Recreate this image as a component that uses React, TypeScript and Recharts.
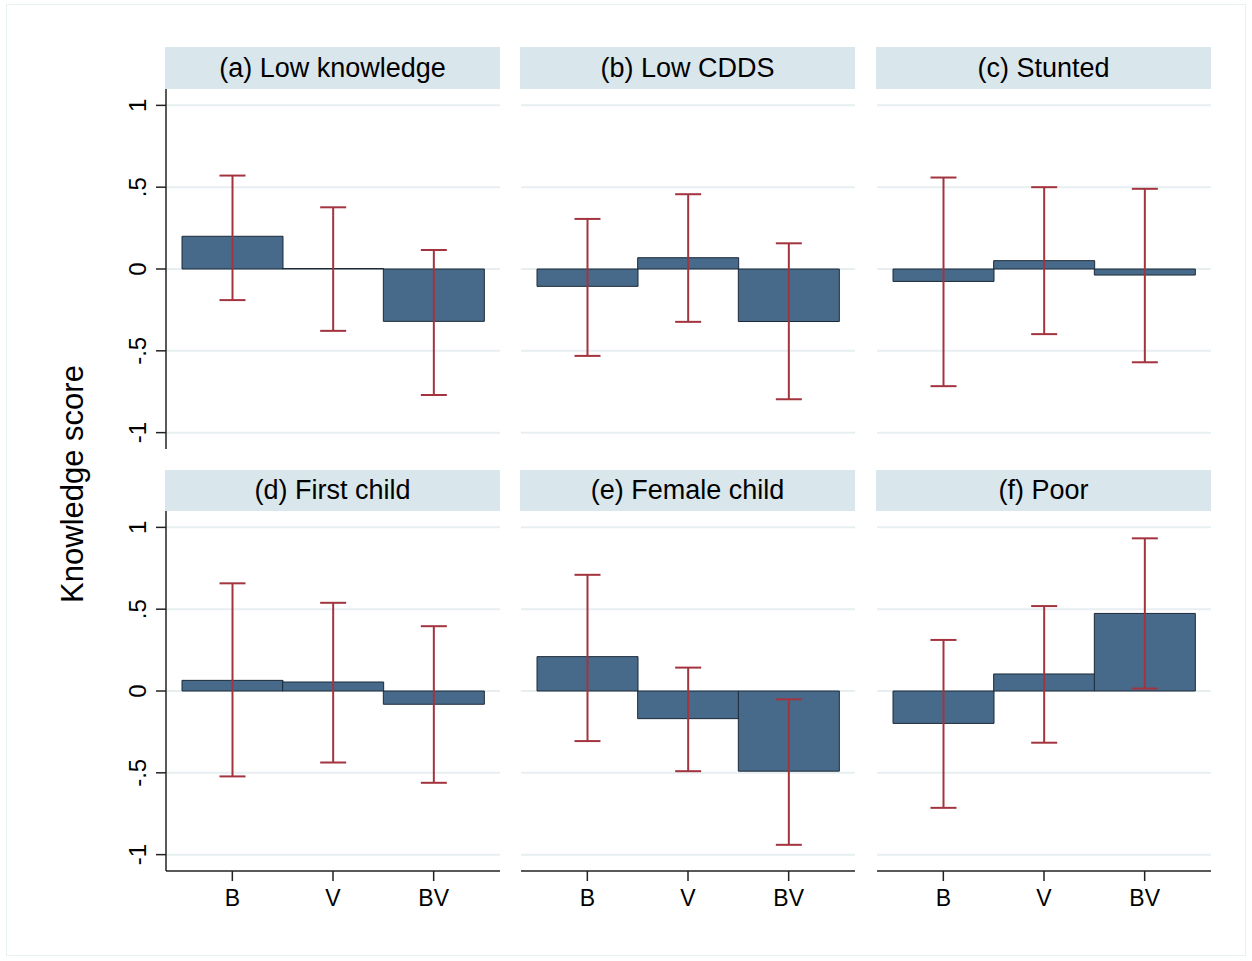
import React from 'react';
import { BarChart, Bar, XAxis, YAxis, CartesianGrid, ErrorBar } from 'recharts';

const categories = ['B', 'V', 'BV'];
const panelTitles = ['(a) Low knowledge', '(b) Low CDDS', '(c) Stunted', '(d) First child', '(e) Female child', '(f) Poor'];
const yTicks = [-1, -0.5, 0, 0.5, 1];
const yTickLabels = ['-1', '-.5', '0', '.5', '1'];
const yAxisTitle = 'Knowledge score';

// point estimates
const lowKnowledgeValues = [0.2, 0.003, -0.32];
const lowCddsValues = [-0.106, 0.069, -0.321];
const stuntedValues = [-0.076, 0.051, -0.037];
const firstChildValues = [0.065, 0.055, -0.081];
const femaleChildValues = [0.21, -0.169, -0.49];
const poorValues = [-0.198, 0.104, 0.474];

// confidence interval lower bounds
const lowKnowledgeLow = [-0.19, -0.378, -0.77];
const lowCddsLow = [-0.531, -0.323, -0.796];
const stuntedLow = [-0.716, -0.398, -0.57];
const firstChildLow = [-0.522, -0.437, -0.561];
const femaleChildLow = [-0.306, -0.49, -0.94];
const poorLow = [-0.714, -0.316, 0.015];

// confidence interval upper bounds
const lowKnowledgeHigh = [0.571, 0.377, 0.116];
const lowCddsHigh = [0.306, 0.457, 0.157];
const stuntedHigh = [0.559, 0.5, 0.49];
const firstChildHigh = [0.658, 0.539, 0.396];
const femaleChildHigh = [0.71, 0.143, -0.051];
const poorHigh = [0.312, 0.519, 0.933];

const panelValues = [lowKnowledgeValues, lowCddsValues, stuntedValues, firstChildValues, femaleChildValues, poorValues];
const panelLows = [lowKnowledgeLow, lowCddsLow, stuntedLow, firstChildLow, femaleChildLow, poorLow];
const panelHighs = [lowKnowledgeHigh, lowCddsHigh, stuntedHigh, firstChildHigh, femaleChildHigh, poorHigh];

const FONT = '"Liberation Sans", Arial, Helvetica, sans-serif';
const BAR_FILL = '#476a8b';
const BAR_STROKE = '#1c2a38';
const ERR_COLOR = '#a3343f';
const GRID_COLOR = '#e7eff1';
const HEADER_BG = '#d9e6ec';

const COL_X = [166, 521, 877];
const PLOT_W = 334;
const ROW_PLOT_TOP = [89, 511];
const PLOT_H = 360;
const HEADER_TOP = [47, 470];
const HEADER_H = [42, 41];
const Y_AXIS_W = 70;
const X_AXIS_H = 50;

const buildData = (i: number) =>
  categories.map((c, j) => ({
    cat: c,
    value: panelValues[i][j],
    err: [panelValues[i][j] - panelLows[i][j], panelHighs[i][j] - panelValues[i][j]],
  }));

const YTick = (props: any) => {
  const { x, y, payload } = props;
  const idx = yTicks.indexOf(payload.value);
  const label = idx >= 0 ? yTickLabels[idx] : String(payload.value);
  return (
    <text
      x={x}
      y={y}
      transform={`rotate(-90, ${x}, ${y})`}
      textAnchor="middle"
      fontSize={24}
      fontFamily={FONT}
      fill="#000"
    >
      {label}
    </text>
  );
};

const XTick = (props: any) => {
  const { x, y, payload } = props;
  return (
    <text x={x} y={y + 23} textAnchor="middle" fontSize={23} fontFamily={FONT} fill="#000">
      {payload.value}
    </text>
  );
};

const Panel = ({ index }: { index: number }) => {
  const row = Math.floor(index / 3);
  const col = index % 3;
  const showY = col === 0;
  const showX = row === 1;
  const width = PLOT_W + (showY ? Y_AXIS_W : 0);
  const height = PLOT_H + (showX ? X_AXIS_H : 0);
  const left = COL_X[col] - (showY ? Y_AXIS_W : 0);
  const top = ROW_PLOT_TOP[row];
  return (
    <>
      <div
        style={{
          position: 'absolute',
          left: COL_X[col] - 1,
          top: HEADER_TOP[row],
          width: PLOT_W + 1,
          height: HEADER_H[row],
          background: HEADER_BG,
          fontFamily: FONT,
          fontSize: 27,
          lineHeight: `${HEADER_H[row]}px`,
          textAlign: 'center',
          color: '#000',
        }}
      >
        {panelTitles[index]}
      </div>
      <div style={{ position: 'absolute', left, top }}>
        <BarChart
          width={width}
          height={height}
          data={buildData(index)}
          margin={{ top: 0, right: 0, bottom: 0, left: 0 }}
          barCategoryGap={0}
          barGap={0}
        >
          <CartesianGrid
            vertical={false}
            horizontalValues={yTicks}
            stroke={GRID_COLOR}
            strokeWidth={2}
          />
          <XAxis
            dataKey="cat"
            hide={!showX}
            height={X_AXIS_H}
            padding={{ left: 16, right: 16 }}
            axisLine={{ stroke: '#222', strokeWidth: 1.5 }}
            tickLine={{ stroke: '#222', strokeWidth: 1.5 }}
            tickSize={10}
            tickMargin={2}
            tick={<XTick />}
          />
          <YAxis
            hide={!showY}
            width={Y_AXIS_W}
            domain={[-1.1, 1.1]}
            allowDataOverflow
            ticks={yTicks}
            axisLine={{ stroke: '#222', strokeWidth: 1.5 }}
            tickLine={{ stroke: '#222', strokeWidth: 1.5 }}
            tickSize={10}
            tickMargin={10}
            tick={<YTick />}
          />
          <Bar
            dataKey="value"
            fill={BAR_FILL}
            stroke={BAR_STROKE}
            strokeWidth={1}
            isAnimationActive={false}
          >
            <ErrorBar dataKey="err" width={13} stroke={ERR_COLOR} strokeWidth={2} />
          </Bar>
        </BarChart>
      </div>
    </>
  );
};

export default function App() {
  return (
    <div
      style={{
        position: 'absolute',
        left: 0,
        top: 0,
        width: 1252,
        height: 961,
        background: '#fff',
        overflow: 'hidden',
      }}
    >
      <div
        style={{
          position: 'absolute',
          left: 6,
          top: 4,
          width: 1238,
          height: 950,
          border: '1px solid #e8f0f0',
        }}
      />
      <svg style={{ position: 'absolute', left: 0, top: 0 }} width={110} height={961}>
        <text
          x={83}
          y={484}
          transform="rotate(-90, 83, 484)"
          textAnchor="middle"
          fontSize={31}
          fontFamily={FONT}
          fill="#000"
        >
          {yAxisTitle}
        </text>
      </svg>
      {panelTitles.map((_, i) => (
        <Panel key={i} index={i} />
      ))}
    </div>
  );
}
